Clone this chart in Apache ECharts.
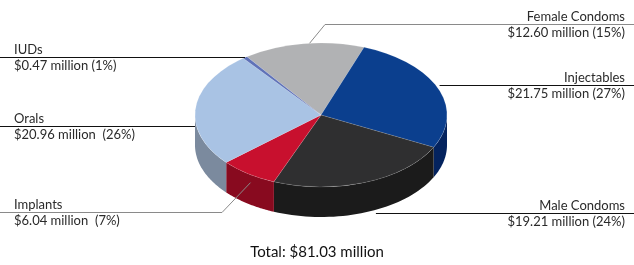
<!DOCTYPE html>
<html>
<head>
<meta charset="utf-8">
<script src="https://cdn.jsdelivr.net/npm/echarts@6/dist/echarts.min.js"></script>
<style>
  html, body { margin: 0; padding: 0; background: #fff; }
  #main { width: 634px; height: 265px; }
</style>
</head>
<body>
<div id="main"></div>
<script>
// data, clockwise from the top
var categories = ['Female Condoms', 'Injectables', 'Male Condoms', 'Implants', 'Orals', 'IUDs'];
var values = [12.60, 21.75, 19.21, 6.04, 20.96, 0.47];
var valueLabels = ['$12.60 million (15%)', '$21.75 million (27%)', '$19.21 million (24%)',
  '$6.04 million  (7%)', '$20.96 million  (26%)', '$0.47 million (1%)'];
var totalText = 'Total: $81.03 million';

var topColors = ['#b1b2b4', '#0b3f8e', '#2f2f30', '#c8102e', '#a9c3e4', '#5f72b8'];
var sideColors = ['#7e7f81', '#04235e', '#1b1b1b', '#880a1f', '#7b8a9e', '#3d4d86'];

// pie geometry (pixels)
var cx = 321, cy = 115, rx = 126, ry = 72, depth = 30;
var startAngle = -126 * Math.PI / 180;

// label layout: side, y of the rule, where on the slice the leader ends
var labelLayout = [
  { side: 'right', lineY: 24.5, frac: 0.55, elbowX: 325, dy: 0, color: '#8a8a8a' },
  { side: 'right', lineY: 85.5, frac: 0.52, dy: 0, color: '#111' },
  { side: 'right', lineY: 213.5, frac: 0.44, dy: 0, color: '#111' },
  { side: 'left', lineY: 212.5, frac: 0.45, elbowX: 222, dy: 8, color: '#8a8a8a' },
  { side: 'left', lineY: 126.5, frac: 0.44, dy: 0, color: '#111' },
  { side: 'left', lineY: 57.5, frac: 0.5, dy: 0, color: '#111' }
];

var total = values.reduce(function (a, b) { return a + b; }, 0);

function sliceAngles(i) {
  var before = 0;
  for (var k = 0; k < i; k++) before += values[k];
  var a0 = startAngle + before / total * Math.PI * 2;
  var a1 = a0 + values[i] / total * Math.PI * 2;
  return [a0, a1];
}

function renderSide(params, api) {
  var i = params.dataIndex;
  var a = sliceAngles(i);
  var lo = Math.max(a[0], 0), hi = Math.min(a[1], Math.PI);
  if (lo >= hi) return null;
  var pts = [], n = 40, t, k;
  for (k = 0; k <= n; k++) {
    t = lo + (hi - lo) * k / n;
    pts.push([cx + rx * Math.cos(t), cy + ry * Math.sin(t)]);
  }
  for (k = n; k >= 0; k--) {
    t = lo + (hi - lo) * k / n;
    pts.push([cx + rx * Math.cos(t), cy + ry * Math.sin(t) + depth]);
  }
  return {
    type: 'polygon',
    shape: { points: pts },
    style: { fill: sideColors[i] }
  };
}

function renderTop(params, api) {
  var i = params.dataIndex;
  var a = sliceAngles(i);
  return {
    type: 'sector',
    x: cx,
    y: cy,
    scaleY: ry / rx,
    shape: { cx: 0, cy: 0, r: rx, r0: 0, startAngle: a[0], endAngle: a[1], clockwise: true },
    style: { fill: topColors[i], stroke: 'rgba(255,255,255,0.25)', lineWidth: 0.6 }
  };
}

function renderLabel(params, api) {
  var i = params.dataIndex;
  var a = sliceAngles(i);
  var L = labelLayout[i];
  var t = a[0] + (a[1] - a[0]) * L.frac;
  var ax = cx + rx * Math.cos(t);
  var ay = cy + ry * Math.sin(t) + L.dy;
  var right = L.side === 'right';
  var edge = right ? 634 : 0;
  var pts;
  if (L.elbowX != null) {
    pts = [[edge, L.lineY], [L.elbowX, L.lineY], [ax, ay]];
  } else {
    pts = [[edge, L.lineY], [ax, L.lineY]];
  }
  var tx = right ? 625 : 14;
  var font = '13px Lato, "Open Sans", sans-serif';
  return {
    type: 'group',
    children: [
      { type: 'polyline', shape: { points: pts }, style: { stroke: L.color, lineWidth: 1, fill: null } },
      { type: 'text', x: tx, y: L.lineY - 1,
        style: { text: categories[i], font: font, fill: '#2a2a2a', align: right ? 'right' : 'left', verticalAlign: 'bottom' } },
      { type: 'text', x: tx, y: L.lineY + 1.5,
        style: { text: valueLabels[i], font: font, fill: '#2a2a2a', align: right ? 'right' : 'left', verticalAlign: 'top' } }
    ]
  };
}

var chart = echarts.init(document.getElementById('main'), null, { renderer: 'canvas' });
chart.setOption({
  animation: false,
  title: {
    text: totalText,
    left: 'center',
    top: 245,
    padding: 0,
    textStyle: { fontFamily: 'Lato, "Open Sans", sans-serif', fontSize: 15, fontWeight: 'normal', color: '#111' }
  },
  series: [
    { type: 'custom', coordinateSystem: 'none', silent: true, z: 1, renderItem: renderSide, data: values },
    { type: 'custom', coordinateSystem: 'none', silent: true, z: 2, renderItem: renderTop, data: values },
    { type: 'custom', coordinateSystem: 'none', silent: true, z: 3, renderItem: renderLabel, data: values }
  ]
});
</script>
</body>
</html>
